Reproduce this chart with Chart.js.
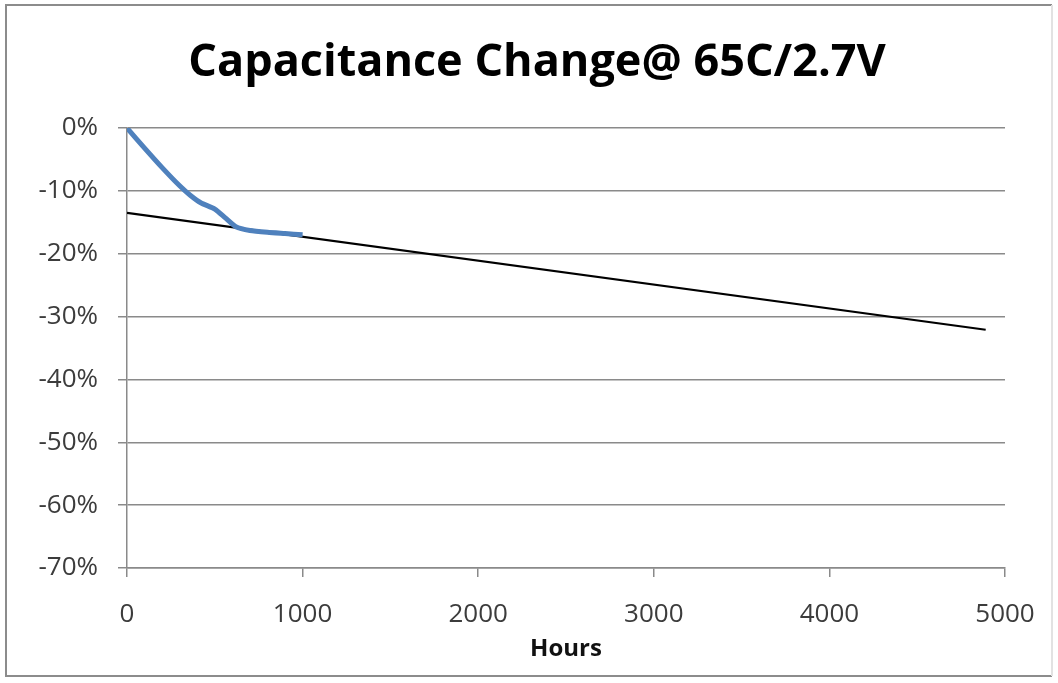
<!DOCTYPE html>
<html lang="en">
<head>
    <meta charset="UTF-8">
    <title>Capacitance Change@ 65C/2.7V</title>
    <script src="https://cdn.jsdelivr.net/npm/chart.js"></script>
    <style>
        html, body { margin: 0; padding: 0; background: #fff; }
        #wrap { position: relative; width: 1058px; height: 683px; }
    </style>
</head>
<body>
    <div id="wrap">
        <canvas id="capChart" width="1058" height="683"></canvas>
    </div>

    <script>
        // measured points (hours, % change)
        var measuredHours = [0, 100, 200, 300, 360, 420, 500, 560, 620, 700, 800, 900, 1000];
        var measuredChange = [0, -3.2, -6.3, -9.2, -10.7, -11.9, -12.9, -14.3, -15.7, -16.3, -16.6, -16.8, -17.0];

        // trend line end points
        var trendHours = [0, 4890];
        var trendChange = [-13.5, -32.1];

        var xTicks = [0, 1000, 2000, 3000, 4000, 5000];
        var yTicks = [0, -10, -20, -30, -40, -50, -60, -70];

        function toPoints(xs, ys) {
            var pts = [];
            for (var i = 0; i < xs.length; i++) pts.push({ x: xs[i], y: ys[i] });
            return pts;
        }

        var gridGray = '#8a8a8a';
        var labelColor = '#3c3c3c';

        // outer frame of the picture
        var framePlugin = {
            id: 'frame',
            afterDraw: function (chart) {
                var c = chart.ctx;
                c.save();
                c.lineWidth = 2;
                c.strokeStyle = '#8c8c8c';
                c.beginPath();
                c.moveTo(1052, 5); c.lineTo(6, 5); c.lineTo(6, 676); c.lineTo(1052, 676);
                c.stroke();
                c.strokeStyle = '#e2e2e2';
                c.beginPath();
                c.moveTo(1052, 5); c.lineTo(1052, 676);
                c.stroke();
                c.restore();
            }
        };

        var config = {
            type: 'line',
            data: {
                datasets: [{
                    data: toPoints(measuredHours, measuredChange),
                    borderColor: '#4f81bd',
                    borderWidth: 5,
                    pointRadius: 0,
                    tension: 0.2,
                    fill: false
                }, {
                    data: toPoints(trendHours, trendChange),
                    borderColor: '#000000',
                    borderWidth: 2.2,
                    pointRadius: 0,
                    fill: false
                }]
            },
            options: {
                responsive: false,
                animation: false,
                layout: { padding: { top: 10, left: 30, right: 14, bottom: 0 } },
                plugins: {
                    legend: { display: false },
                    tooltip: { enabled: false },
                    title: {
                        display: true,
                        text: 'Capacitance Change@ 65C/2.7V',
                        color: '#000',
                        font: { family: 'Open Sans', size: 45, weight: 'bold' },
                        padding: { top: 26, bottom: 38 }
                    }
                },
                scales: {
                    x: {
                        type: 'linear',
                        min: 0,
                        max: 5000,
                        afterBuildTicks: function (s) { s.ticks = xTicks.map(function (v) { return { value: v }; }); },
                        afterFit: function (s) { s.height = 683 - 568; },
                        ticks: {
                            color: labelColor,
                            font: { family: 'Open Sans', size: 26 },
                            padding: 22,
                            maxRotation: 0,
                            callback: function (v) { return String(v); }
                        },
                        grid: { drawOnChartArea: false, color: gridGray, tickLength: 9, lineWidth: 1.5 },
                        border: { color: gridGray, width: 1.5 },
                        title: {
                            display: true,
                            text: 'Hours',
                            color: '#111',
                            font: { family: 'Open Sans', size: 24, weight: 'bold' },
                            padding: { top: 0, bottom: 19 }
                        }
                    },
                    y: {
                        min: -70,
                        max: 0,
                        afterBuildTicks: function (s) { s.ticks = yTicks.map(function (v) { return { value: v }; }); },
                        afterFit: function (s) { s.width = 127 - 30; },
                        ticks: {
                            color: labelColor,
                            font: { family: 'Open Sans', size: 26 },
                            padding: 20,
                            callback: function (v) { return v + '%'; }
                        },
                        grid: { color: gridGray, tickLength: 9, lineWidth: 1.5 },
                        border: { color: gridGray, width: 1.5 }
                    },
                    // empty spacer on the right so the plot ends at 5000 like the original
                    spacer: {
                        position: 'right',
                        min: -70,
                        max: 0,
                        afterFit: function (s) { s.width = 1044 - 1005; },
                        ticks: { display: false },
                        grid: { display: false },
                        border: { display: false }
                    }
                }
            },
            plugins: [framePlugin]
        };

        var ctx = document.getElementById('capChart').getContext('2d');
        var capChart = new Chart(ctx, config);
    </script>
</body>
</html>
